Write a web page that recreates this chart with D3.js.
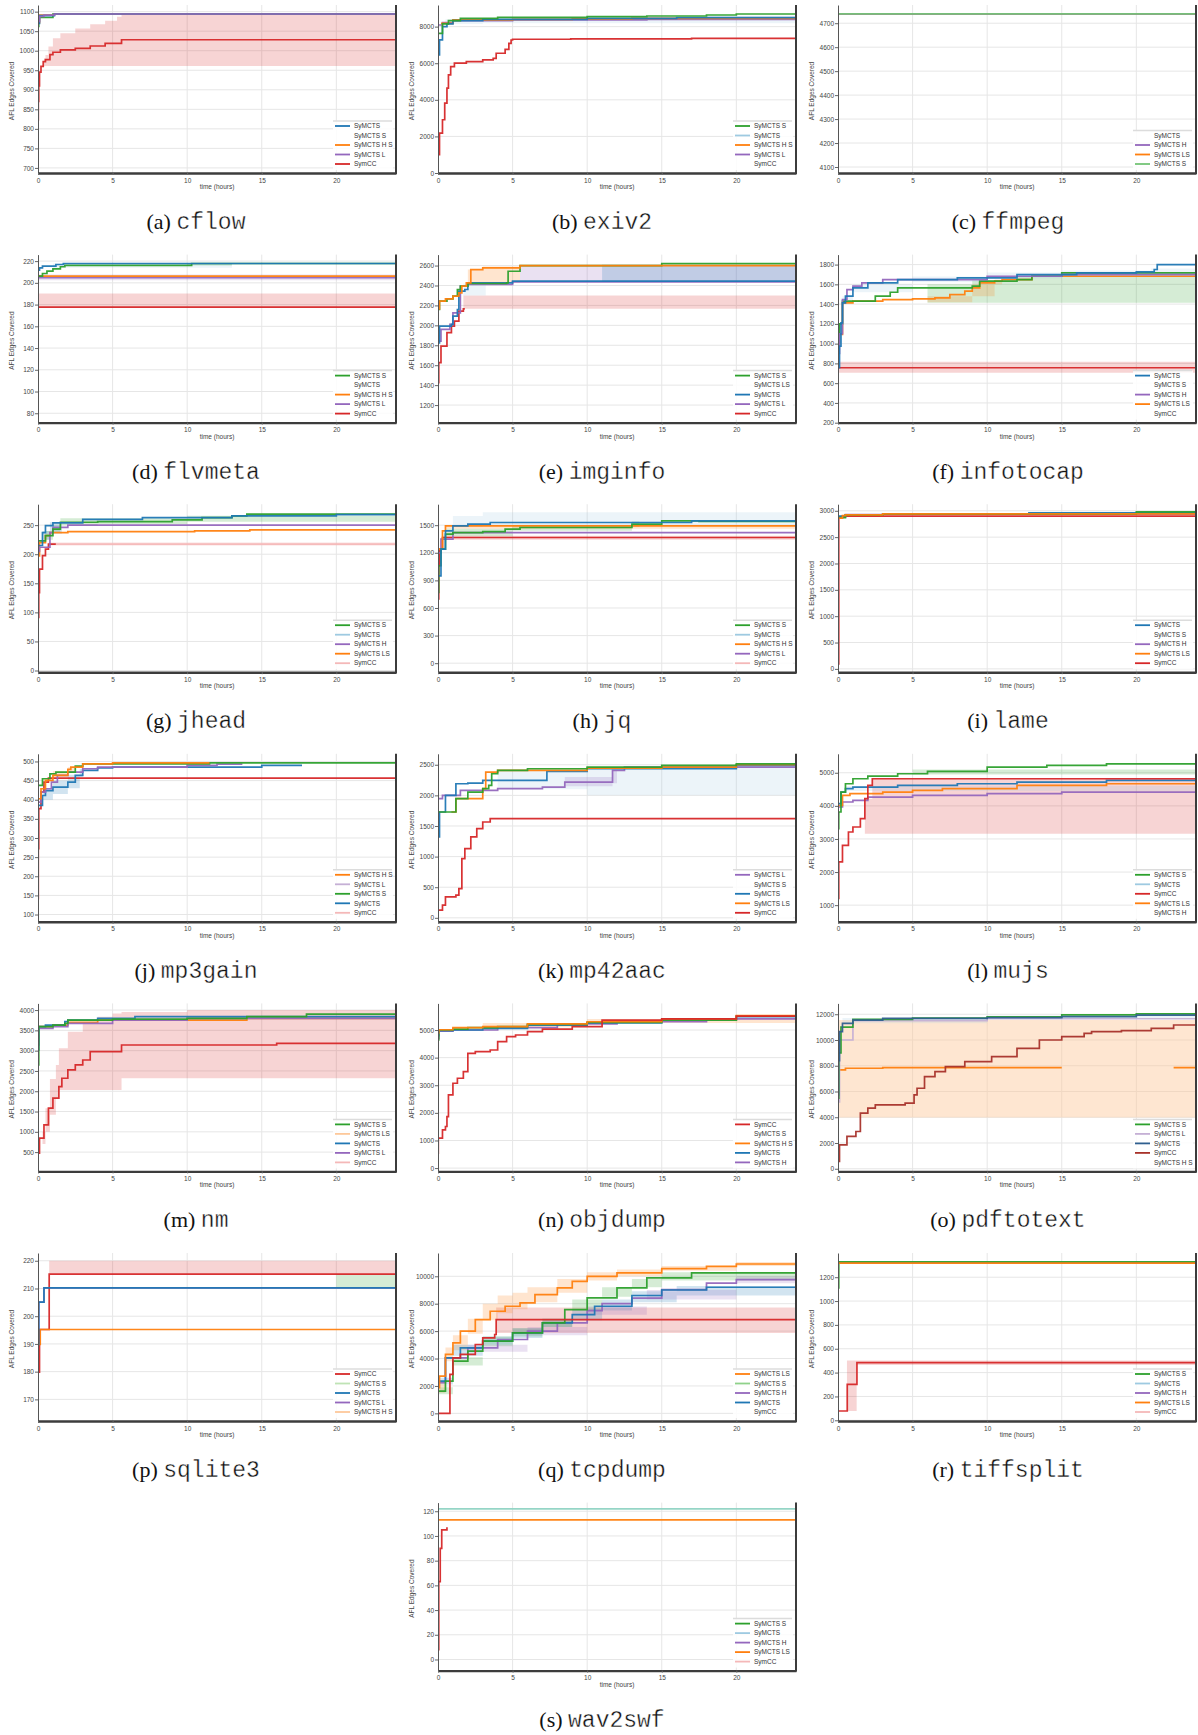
<!DOCTYPE html>
<html>
<head>
<meta charset="utf-8">
<script src="https://cdn.jsdelivr.net/npm/d3@7"></script>
<style>
  body { margin: 0; background: #fff; }
  svg { display: block; font-family: "Liberation Sans", "DejaVu Sans", sans-serif; }
</style>
</head>
<body>
<script>
// Coverage over time (AFL edges) for each benchmark program, one panel per program.

const programs = ["cflow", "exiv2", "ffmpeg", "flvmeta", "imginfo", "infotocap", "jhead", "jq", "lame",
  "mp3gain", "mp42aac", "mujs", "nm", "objdump", "pdftotext", "sqlite3", "tcpdump", "tiffsplit", "wav2swf"];
const letters = ["a", "b", "c", "d", "e", "f", "g", "h", "i", "j", "k", "l", "m", "n", "o", "p", "q", "r", "s"];

const timeTicks = [0, 5, 10, 15, 20];

const yDomains = [
  [687, 1117], [0, 9182], [4075, 4776], [71.4, 226], [1024, 2710], [201, 1901],
  [-2.9, 286], [-98, 1728], [-63, 3125], [81, 520], [-65, 2679], [497, 5573],
  [25, 4164], [-120, 5964], [-207, 12842], [162.2, 222.8], [-558, 11699], [-6, 1403], [-9, 127]
];

const yTicks = [
  [700, 750, 800, 850, 900, 950, 1000, 1050, 1100],
  [0, 2000, 4000, 6000, 8000],
  [4100, 4200, 4300, 4400, 4500, 4600, 4700],
  [80, 100, 120, 140, 160, 180, 200, 220],
  [1200, 1400, 1600, 1800, 2000, 2200, 2400, 2600],
  [200, 400, 600, 800, 1000, 1200, 1400, 1600, 1800],
  [0, 50, 100, 150, 200, 250],
  [0, 300, 600, 900, 1200, 1500],
  [0, 500, 1000, 1500, 2000, 2500, 3000],
  [100, 150, 200, 250, 300, 350, 400, 450, 500],
  [0, 500, 1000, 1500, 2000, 2500],
  [1000, 2000, 3000, 4000, 5000],
  [500, 1000, 1500, 2000, 2500, 3000, 3500, 4000],
  [0, 1000, 2000, 3000, 4000, 5000],
  [0, 2000, 4000, 6000, 8000, 10000, 12000],
  [170, 180, 190, 200, 210, 220],
  [0, 2000, 4000, 6000, 8000, 10000],
  [0, 200, 400, 600, 800, 1000, 1200],
  [0, 20, 40, 60, 80, 100, 120]
];

const palette = {
  blue: "#1f77b4", orange: "#ff7f0e", green: "#2ca02c", red: "#d62728", purple: "#9467bd",
  lightblue: "#9ecae1", lavender: "#c5b0d5", palered: "#f4b8b8", paleorange: "#fdc89a",
  palegreen: "#bfe3b5", lightgreen: "#8fd18a", midgreen: "#74c476", darkred: "#a8322a", darkblue: "#2f5f8f",
  teal: "#8fd3c3"
};

// legend entries per panel: [label, colour key or null when no swatch is shown]
const legends = [
  [["SyMCTS", "blue"], ["SyMCTS S", null], ["SyMCTS H S", "orange"], ["SyMCTS L", "purple"], ["SymCC", "red"]],
  [["SyMCTS S", "green"], ["SyMCTS", "lightblue"], ["SyMCTS H S", "orange"], ["SyMCTS L", "purple"], ["SymCC", null]],
  [["SyMCTS", null], ["SyMCTS H", "purple"], ["SyMCTS LS", "orange"], ["SyMCTS S", "midgreen"]],
  [["SyMCTS S", "green"], ["SyMCTS", null], ["SyMCTS H S", "orange"], ["SyMCTS L", "purple"], ["SymCC", "red"]],
  [["SyMCTS S", "green"], ["SyMCTS LS", null], ["SyMCTS", "blue"], ["SyMCTS L", "purple"], ["SymCC", "red"]],
  [["SyMCTS", "blue"], ["SyMCTS S", null], ["SyMCTS H", "purple"], ["SyMCTS LS", "orange"], ["SymCC", null]],
  [["SyMCTS S", "green"], ["SyMCTS", "lightblue"], ["SyMCTS H", "purple"], ["SyMCTS LS", "orange"], ["SymCC", "palered"]],
  [["SyMCTS S", "green"], ["SyMCTS", "lightblue"], ["SyMCTS H S", "orange"], ["SyMCTS L", "purple"], ["SymCC", "palered"]],
  [["SyMCTS", "blue"], ["SyMCTS S", null], ["SyMCTS H", "purple"], ["SyMCTS LS", "orange"], ["SymCC", "red"]],
  [["SyMCTS H S", "orange"], ["SyMCTS L", "lavender"], ["SyMCTS S", "green"], ["SyMCTS", "blue"], ["SymCC", "palered"]],
  [["SyMCTS L", "purple"], ["SyMCTS S", null], ["SyMCTS", "blue"], ["SyMCTS LS", "orange"], ["SymCC", "red"]],
  [["SyMCTS S", "green"], ["SyMCTS", "lightblue"], ["SymCC", "red"], ["SyMCTS LS", "orange"], ["SyMCTS H", null]],
  [["SyMCTS S", "green"], ["SyMCTS LS", "paleorange"], ["SyMCTS", "blue"], ["SyMCTS L", "purple"], ["SymCC", "palered"]],
  [["SymCC", "red"], ["SyMCTS S", null], ["SyMCTS H S", "orange"], ["SyMCTS", "blue"], ["SyMCTS H", "purple"]],
  [["SyMCTS S", "green"], ["SyMCTS L", "lavender"], ["SyMCTS", "darkblue"], ["SymCC", "darkred"], ["SyMCTS H S", null]],
  [["SymCC", "red"], ["SyMCTS S", "palegreen"], ["SyMCTS", "blue"], ["SyMCTS L", "purple"], ["SyMCTS H S", "paleorange"]],
  [["SyMCTS LS", "orange"], ["SyMCTS S", "lightgreen"], ["SyMCTS H", "purple"], ["SyMCTS", "blue"], ["SymCC", null]],
  [["SyMCTS S", "green"], ["SyMCTS", "lightblue"], ["SyMCTS H", "purple"], ["SyMCTS LS", "orange"], ["SymCC", "palered"]],
  [["SyMCTS S", "green"], ["SyMCTS", "lightblue"], ["SyMCTS H", "purple"], ["SyMCTS LS", "orange"], ["SymCC", "palered"]]
];

// Runs: pts = [hours, edges] (step after), band = [hours, low, high]
const cflowRuns = [
  { c: "red", band: [[0.3, 961, 962], [0.4, 961, 980], [0.5, 961, 989], [0.7, 961, 1011], [1, 961, 1032], [1.5, 961, 1045], [2.5, 961, 1057], [3.5, 961, 1068], [4.5, 961, 1077], [5.3, 961, 1087], [5.6, 961, 1094], [24, 961, 1094]] },
  { c: "red", pts: [[0, 823], [0.02, 870], [0.05, 910], [0.1, 945], [0.2, 960], [0.35, 972], [0.5, 977], [0.8, 990], [1.0, 996], [1.5, 1002], [2.5, 1006], [3.5, 1012], [4.5, 1019], [5.6, 1028], [24, 1028]] },
  { c: "green", pts: [[0, 1062], [0.05, 1085], [1.0, 1094], [24, 1094]] },
  { c: "orange", pts: [[0, 1072], [0.1, 1091], [1.1, 1094], [24, 1094]] },
  { c: "blue", pts: [[0, 1070], [0.1, 1090], [1.1, 1094], [24, 1094]] },
  { c: "purple", pts: [[0, 1075], [0.1, 1088], [0.4, 1091], [1.1, 1094], [24, 1094]] }
];

const exiv2Runs = [
  { c: "lightblue", band: [[0.5, 8145, 8400], [3, 8182, 8450], [10, 8182, 8530], [18, 8182, 8600], [24, 8145, 8727]] },
  { c: "red", pts: [[0, 1000], [0.1, 2180], [0.3, 2910], [0.45, 3818], [0.6, 4636], [0.7, 5363], [0.85, 5818], [1.1, 6000], [1.9, 6090], [3, 6180], [3.7, 6270], [3.9, 6545], [4.5, 6760], [4.75, 7090], [4.9, 7270], [5, 7310], [8.9, 7330], [17, 7360], [24, 7360]] },
  { c: "purple", pts: [[0, 8090], [0.3, 8218], [1, 8327], [5, 8364], [14, 8400], [24, 8420]] },
  { c: "orange", pts: [[0.2, 8182], [1, 8364], [5, 8400], [9, 8420], [13, 8455], [24, 8455]] },
  { c: "blue", pts: [[0, 6455], [0.1, 7273], [0.3, 8000], [0.6, 8145], [1, 8327], [3, 8400], [10, 8455], [16, 8490], [24, 8470]] },
  { c: "green", pts: [[0, 7636], [0.3, 8145], [0.7, 8327], [1.5, 8455], [4, 8509], [10, 8545], [14, 8582], [18, 8636], [20, 8690], [24, 8690]] }
];

const ffmpegRuns = [
  { c: "orange", pts: [[0, 4739], [24, 4739]] },
  { c: "purple", pts: [[0, 4739], [24, 4739]] },
  { c: "midgreen", pts: [[0, 4739], [24, 4739]] }
];

const flvmetaRuns = [
  { c: "red", band: [[0, 177.7, 190.3], [24, 177.7, 190.3]] },
  { c: "purple", band: [[0, 202.5, 207.7], [24, 202.5, 207.7]] },
  { c: "lightblue", band: [[1, 213.8, 217.8], [13, 213.8, 217.8]] },
  { c: "green", band: [[10, 216, 218], [13, 216, 218]] },
  { c: "red", pts: [[0, 177.7], [24, 177.7]] },
  { c: "purple", pts: [[0, 204.7], [24, 204.7]] },
  { c: "orange", pts: [[0, 206.2], [24, 206.2]] },
  { c: "green", pts: [[0, 206.2], [0.3, 208.6], [0.6, 210.8], [1, 212.9], [1.5, 214.8], [1.8, 216], [10.3, 217.8], [24, 217.8]] },
  { c: "blue", pts: [[0, 211.7], [0.1, 213.8], [0.3, 215.4], [1.2, 216.9], [1.7, 217.8], [24, 217.8]] }
];

const imginfoRuns = [
  { c: "red", band: [[1.7, 2166, 2300], [24, 2166, 2300]] },
  { c: "lightblue", band: [[1.7, 2300, 2420], [3.2, 2300, 2420]] },
  { c: "orange", band: [[2, 2426, 2560], [3, 2430, 2590], [5.5, 2436, 2600]] },
  { c: "purple", band: [[5.5, 2436, 2600], [24, 2436, 2610]] },
  { c: "blue", band: [[11, 2436, 2610], [24, 2436, 2610]] },
  { c: "red", pts: [[0, 1425], [0.05, 1625], [0.2, 1792], [0.6, 1926], [0.9, 1992], [1.1, 2042], [1.4, 2143], [1.7, 2166], [1.8, 2166]] },
  { c: "purple", pts: [[0, 1842], [0.2, 1959], [0.8, 2009], [1.0, 2126], [1.5, 2393], [2, 2410], [5, 2436], [24, 2436]] },
  { c: "blue", pts: [[0, 1825], [0.1, 1992], [0.9, 2009], [1, 2092], [1.3, 2159], [1.4, 2343], [1.8, 2360], [2, 2426], [5, 2443], [24, 2443]] },
  { c: "green", pts: [[0, 2159], [0.1, 2243], [0.6, 2266], [1, 2293], [1.3, 2360], [1.5, 2393], [2, 2420], [4.6, 2426], [4.7, 2543], [5.5, 2600], [15, 2620], [24, 2620]] },
  { c: "orange", pts: [[0, 2166], [0.1, 2243], [0.5, 2266], [1, 2293], [1.4, 2326], [1.6, 2393], [1.9, 2426], [2.2, 2560], [3, 2577], [5.5, 2600], [24, 2610]] }
];

const infotocapRuns = [
  { c: "red", band: [[0, 706, 817], [24, 706, 817]] },
  { c: "green", band: [[6, 1413, 1600], [9, 1413, 1640], [12, 1413, 1680], [15, 1413, 1720], [24, 1413, 1730]] },
  { c: "lightblue", band: [[0.3, 1400, 1480], [1, 1520, 1600], [5, 1620, 1680], [10, 1660, 1720], [15, 1690, 1740], [21, 1700, 1760], [24, 1700, 1800]] },
  { c: "orange", band: [[6, 1420, 1480], [9, 1480, 1600], [10.5, 1600, 1650], [11, 1600, 1650]] },
  { c: "red", pts: [[0, 756], [24, 756]] },
  { c: "orange", pts: [[0, 1093], [0.3, 1413], [1, 1430], [3, 1446], [5, 1453], [6.5, 1463], [7.5, 1497], [8.5, 1531], [9, 1564], [9.5, 1615], [10.5, 1632], [11, 1648], [13, 1682], [24, 1692]] },
  { c: "green", pts: [[0, 1000], [0.1, 1200], [0.3, 1430], [2, 1430], [2.5, 1480], [3.5, 1520], [4, 1564], [9, 1581], [9.5, 1632], [12, 1648], [13, 1682], [15, 1716], [24, 1716]] },
  { c: "purple", pts: [[0, 900], [0.1, 1100], [0.3, 1446], [0.6, 1547], [1, 1581], [1.6, 1615], [3, 1648], [10, 1682], [15, 1699], [24, 1716]] },
  { c: "blue", pts: [[0, 756], [0.1, 975], [0.2, 1211], [0.3, 1413], [0.5, 1480], [1, 1564], [2, 1615], [4, 1648], [8, 1665], [12, 1699], [16, 1716], [20, 1726], [21.2, 1750], [21.4, 1800], [24, 1800]] }
];

const jheadRuns = [
  { c: "palered", band: [[0.7, 215, 220], [24, 215, 220]] },
  { c: "green", band: [[0.5, 225, 240], [1, 238, 250], [1.5, 250, 262], [4, 252, 262], [10, 256, 266], [24, 264, 272]] },
  { c: "blue", band: [[0.3, 225, 240], [0.8, 235, 255], [1.6, 242, 255]] },
  { c: "red", pts: [[0, 91.5], [0.05, 134], [0.1, 174.5], [0.3, 197.4], [0.5, 208.8], [0.7, 217.4], [1.2, 217.4]] },
  { c: "palered", pts: [[1.2, 217.4], [24, 217.4]] },
  { c: "orange", pts: [[0, 197], [0.1, 220], [0.5, 232], [0.8, 237], [2, 239], [10.5, 240], [14.2, 242], [24, 242]] },
  { c: "purple", pts: [[0, 205], [0.1, 212], [0.8, 237], [1, 246], [2, 250], [24, 250]] },
  { c: "green", pts: [[0, 223], [0.5, 232], [1, 243], [1.5, 255], [4, 256], [9, 259], [11, 263], [13, 266], [14, 269], [24, 269]] },
  { c: "blue", pts: [[0, 215], [0.3, 237], [0.5, 249], [1, 254], [3, 260], [7, 263], [13, 266], [20, 268], [24, 268]] }
];

const jqRuns = [
  { c: "lightblue", band: [[1, 1480, 1600], [3, 1500, 1640], [24, 1500, 1640]] },
  { c: "green", band: [[0.5, 1380, 1460], [5, 1440, 1500], [13, 1480, 1540], [13.5, 1480, 1540]] },
  { c: "red", band: [[0.3, 1341, 1384], [24, 1341, 1384]] },
  { c: "orange", band: [[0.5, 1460, 1500], [24, 1470, 1510]] },
  { c: "red", pts: [[0, 698], [0.05, 1059], [0.1, 1240], [0.3, 1366], [24, 1366]] },
  { c: "purple", pts: [[0, 1200], [0.2, 1348], [1, 1420], [24, 1420]] },
  { c: "orange", pts: [[0, 1240], [0.3, 1439], [0.5, 1493], [24, 1493]] },
  { c: "green", pts: [[0, 770], [0.05, 1059], [0.2, 1240], [0.5, 1402], [1, 1420], [3, 1431], [4.5, 1457], [5.5, 1475], [13, 1511], [15, 1547], [17.5, 1540], [24, 1540]] },
  { c: "blue", pts: [[0, 950], [0.2, 1240], [0.5, 1439], [1, 1493], [2, 1511], [3.5, 1529], [17, 1547], [24, 1540]] }
];

const lameRuns = [
  { c: "red", pts: [[0, 95], [0.05, 2870], [0.3, 2900], [24, 2900]] },
  { c: "purple", pts: [[0, 2880], [0.5, 2930], [3, 2935], [24, 2940]] },
  { c: "blue", pts: [[0, 2870], [0.1, 2900], [0.5, 2922], [3, 2940], [12.8, 2961], [24, 2961]] },
  { c: "green", pts: [[0, 2870], [0.5, 2922], [3, 2935], [20, 2980], [24, 2980]] },
  { c: "orange", pts: [[0, 2860], [0.3, 2910], [0.5, 2922], [3, 2940], [24, 2940]] }
];

const mp3gainRuns = [
  { c: "blue", band: [[0.3, 400, 430], [1, 415, 450], [2, 430, 465], [2.8, 460, 480], [3, 460, 480]] },
  { c: "orange", band: [[1, 460, 475], [2, 475, 485], [2.5, 475, 485]] },
  { c: "red", pts: [[0, 141.7], [0.02, 272], [0.05, 376.5], [0.2, 420], [0.4, 446], [0.7, 456.5], [24, 456.5]] },
  { c: "blue", pts: [[0.05, 385], [0.3, 411], [0.5, 424], [1, 433], [2, 446], [2.5, 463.5], [3, 476.5], [4, 483], [5, 485.2], [15, 489.6], [17.7, 489.6]] },
  { c: "purple", pts: [[0, 393.9], [0.2, 420], [0.5, 428.7], [0.9, 446.1], [1.3, 463.5], [2, 472.2], [3, 480.9], [4, 485.2], [10, 489.6], [12, 493], [13.7, 493]] },
  { c: "green", pts: [[0, 437.4], [0.3, 454.8], [0.8, 467.8], [1.2, 472.2], [2.5, 487.8], [3, 493.9], [11.5, 496.5], [24, 496.5]] },
  { c: "orange", pts: [[0, 402.6], [0.2, 428.7], [0.5, 450.4], [1, 463.5], [2, 479.1], [2.2, 485.2], [3, 493.9], [5, 496.5], [11.5, 496.5]] }
];

const mp42aacRuns = [
  { c: "lightblue", band: [[4, 2100, 2420], [10, 2000, 2460], [24, 2000, 2530]] },
  { c: "purple", band: [[8.5, 2150, 2300], [11.7, 2200, 2400], [12, 2200, 2400]] },
  { c: "red", pts: [[0, 125], [0.3, 207], [0.5, 342], [1.2, 370], [1.4, 478], [1.6, 967], [1.8, 1130], [2.2, 1321], [2.6, 1457], [3, 1565], [3.5, 1620], [24, 1620]] },
  { c: "purple", pts: [[0, 1946], [0.3, 2000], [1.5, 2082], [4, 2109], [7, 2136], [8.5, 2217], [11.7, 2408], [12.5, 2462], [24, 2500]] },
  { c: "blue", pts: [[0, 1321], [0.1, 1728], [0.5, 2000], [1.2, 2190], [2, 2201], [3, 2245], [7.3, 2391], [10, 2435], [20, 2489], [24, 2516]] },
  { c: "orange", pts: [[0.9, 1728], [1.2, 1946], [3, 2109], [3.2, 2380], [4, 2408], [10, 2446], [15, 2462], [20, 2500], [24, 2516]] },
  { c: "green", pts: [[0, 1728], [0.9, 1728], [1.2, 1946], [2, 2054], [3, 2109], [3.4, 2163], [3.6, 2353], [4, 2408], [6, 2435], [10, 2462], [15, 2489], [20, 2516], [24, 2533]] }
];

const mujsRuns = [
  { c: "red", band: [[1.8, 3161, 4216], [2.3, 3161, 4819], [24, 3161, 4819]] },
  { c: "lightblue", band: [[0.5, 4450, 4600], [24, 4700, 4850]] },
  { c: "green", band: [[5, 4950, 5100], [24, 5200, 5320]] },
  { c: "purple", pts: [[0, 3965], [0.3, 4116], [1, 4166], [2, 4266], [5, 4317], [10, 4367], [15, 4417], [24, 4467]] },
  { c: "orange", pts: [[0, 4015], [0.3, 4317], [0.8, 4367], [3, 4417], [5, 4467], [7, 4518], [12, 4618], [18, 4668], [24, 4698]] },
  { c: "blue", pts: [[0, 4065], [0.2, 4417], [0.5, 4518], [1, 4568], [4, 4618], [8, 4668], [12, 4719], [18, 4769], [24, 4799]] },
  { c: "red", pts: [[0, 1201], [0.05, 2307], [0.3, 2809], [0.7, 3211], [1, 3362], [1.5, 3613], [1.8, 4216], [2, 4618], [2.3, 4819], [24, 4819]] },
  { c: "green", pts: [[0, 3312], [0.05, 3814], [0.2, 4417], [0.5, 4668], [1, 4819], [2, 4899], [4, 4970], [6, 5040], [10, 5171], [14, 5221], [18, 5271], [24, 5281]] }
];

const nmRuns = [
  { c: "red", band: [[0.3, 700, 1000], [0.5, 1000, 1582], [0.8, 1418, 2300], [1.2, 1828, 2648], [1.4, 2033, 3057], [2, 2033, 3467], [3, 2033, 3672], [4, 2033, 3836], [5, 2033, 3918], [5.6, 2320, 3950], [10, 2320, 4000], [24, 2320, 4000]] },
  { c: "red", pts: [[0, 475], [0.1, 844], [0.4, 1172], [0.7, 1582], [1, 1828], [1.4, 2115], [1.6, 2320], [2, 2525], [2.5, 2648], [3, 2770], [3.5, 2975], [5.6, 3139], [16, 3180], [24, 3180]] },
  { c: "orange", pts: [[0.05, 3590], [1, 3631], [2, 3697], [4, 3754], [14, 3795], [24, 3877]] },
  { c: "purple", pts: [[0, 3139], [0.05, 3549], [1, 3590], [2, 3672], [5, 3754], [10, 3795], [24, 3852]] },
  { c: "blue", pts: [[0, 3016], [0.05, 3590], [0.5, 3631], [1.8, 3713], [2, 3754], [4, 3795], [6.5, 3836], [24, 3861]] },
  { c: "green", pts: [[0, 2648], [0.05, 3590], [1, 3631], [1.8, 3672], [2, 3754], [5, 3779], [10, 3795], [14, 3836], [18, 3902], [24, 3902]] }
];

const objdumpRuns = [
  { c: "orange", band: [[3, 5100, 5250], [10, 5250, 5400], [24, 5500, 5700]] },
  { c: "purple", pts: [[0, 4700], [0.05, 4960], [1, 5000], [4, 5084], [8, 5220], [12, 5300], [18, 5400], [24, 5520]] },
  { c: "blue", pts: [[0, 4800], [0.05, 4980], [1, 5000], [3, 5060], [6, 5180], [10, 5260], [15, 5380], [20, 5480], [24, 5560]] },
  { c: "green", pts: [[0, 4639], [0.05, 5000], [1, 5036], [2, 5084], [4, 5120], [6, 5205], [10, 5277], [15, 5361], [20, 5500], [24, 5602]] },
  { c: "orange", pts: [[0, 4900], [0.05, 5010], [1, 5084], [3, 5120], [6, 5220], [10, 5300], [15, 5400], [20, 5520], [24, 5580]] },
  { c: "red", pts: [[0, 542], [0.02, 1084], [0.3, 1386], [0.5, 1506], [0.6, 1867], [0.7, 2651], [1, 3072], [1.3, 3253], [1.7, 3494], [2, 4157], [2.5, 4217], [3.5, 4277], [4, 4578], [4.6, 4759], [5.2, 4819], [6, 4940], [7, 5036], [9, 5120], [11, 5361], [15, 5400], [20, 5500], [24, 5600]] }
];

const pdftotextRuns = [
  { c: "paleorange", band: [[0, 3979, 11550], [24, 3979, 11550]] },
  { c: "lightblue", band: [[0.3, 11300, 11700], [10, 11650, 11900], [24, 11700, 12000]] },
  { c: "orange", pts: [[0, 5478], [0.05, 7674], [0.5, 7804], [3, 7855], [15, 7855]] },
  { c: "orange", pts: [[22.5, 7855], [24, 7855]] },
  { c: "darkred", pts: [[0, 568], [0.1, 1860], [0.6, 2506], [1.2, 2894], [1.5, 4315], [2, 4703], [2.5, 4961], [4.5, 5090], [5.1, 5736], [5.3, 6253], [5.8, 7158], [6.5, 7545], [7.2, 7933], [8.5, 8320], [10.3, 8708], [12, 9354], [13.5, 10000], [15, 10258], [16.5, 10517], [17, 10646], [19, 10723], [21, 10904], [22.5, 11163], [24, 11421]] },
  { c: "lavender", pts: [[0, 5200], [0.1, 10000], [1, 11500], [10, 11650], [24, 11900]] },
  { c: "green", pts: [[0, 5478], [0.05, 9000], [0.2, 11000], [1, 11600], [5, 11700], [10, 11800], [15, 11950], [20, 12030], [24, 12067]] },
  { c: "darkblue", pts: [[0, 5736], [0.03, 8400], [0.1, 10646], [0.3, 11292], [1, 11550], [3, 11680], [10, 11731], [15, 11809], [20, 11938], [24, 11990]] }
];

const sqlite3Runs = [
  { c: "red", band: [[0.75, 215.2, 220], [24, 215.2, 220]] },
  { c: "green", band: [[20, 210.2, 215.2], [24, 210.2, 215.2]] },
  { c: "purple", pts: [[0, 189.8], [0.05, 205.1], [0.4, 210.2], [24, 210.2]] },
  { c: "red", pts: [[0, 179.8], [0.1, 195.2], [0.75, 215.2], [24, 215.2]] },
  { c: "orange", pts: [[0, 189.8], [0.15, 195.2], [24, 195.2]] },
  { c: "blue", pts: [[0, 189.8], [0.05, 205.1], [0.4, 210.2], [24, 210.2]] }
];

const tcpdumpRuns = [
  { c: "red", band: [[3.9, 5870, 7720], [24, 5870, 7720]] },
  { c: "orange", band: [[0, 1500, 2300], [0.5, 3800, 4800], [1, 4600, 5700], [2, 5800, 6900], [3, 6800, 8000], [4, 7300, 8600], [5, 7600, 8800], [6, 8100, 9200], [8, 8800, 9800], [10, 9700, 10300], [12, 10000, 10500], [15, 10400, 10750], [20, 10750, 11050], [24, 10900, 11150]] },
  { c: "green", band: [[0, 1400, 1900], [1, 3500, 4100], [3, 4900, 5600], [5, 5600, 6200], [7, 6300, 6900], [9, 7500, 8300], [11, 8500, 9200], [13, 9200, 9800], [15, 9700, 10300], [24, 10150, 10550]] },
  { c: "blue", band: [[0, 2100, 2600], [1, 4200, 5000], [3, 5000, 5600], [5, 5500, 6200], [7, 6300, 6900], [9, 6800, 7600], [11, 7500, 8300], [13, 8100, 8900], [16, 8600, 9300], [24, 9100, 9600]] },
  { c: "purple", band: [[2, 4500, 5000], [6, 5700, 6300], [10, 7200, 7800], [14, 8300, 9000], [20, 9500, 10000], [24, 9650, 10100]] },
  { c: "purple", pts: [[0, 2233], [0.5, 4053], [2, 4781], [4, 5388], [6, 5995], [8, 6601], [10, 7500], [11, 8000], [13, 8400], [15, 9028], [18, 9500], [20, 9756], [24, 9878]] },
  { c: "blue", pts: [[0, 2354], [0.5, 4053], [1.5, 4781], [3, 5267], [5, 5873], [7, 6601], [9, 7208], [10.5, 7815], [13, 8600], [15, 9000], [18, 9200], [24, 9344]] },
  { c: "green", pts: [[0, 1626], [0.5, 2354], [1, 3810], [2, 4538], [3, 5267], [5, 5873], [7, 6601], [8.5, 7572], [10, 8422], [12, 9150], [14, 9878], [17, 10242], [24, 10363]] },
  { c: "red", pts: [[0, 0], [0.5, 0], [0.8, 2840], [1.0, 4053], [1.5, 4296], [2.5, 5024], [3, 5510], [3.8, 5752], [3.9, 6845], [24, 6845]] },
  { c: "orange", pts: [[0, 1869], [0.1, 2718], [0.5, 4296], [1, 5145], [1.5, 5995], [2.5, 6845], [3.5, 7451], [4.5, 7815], [5.5, 8058], [6.5, 8665], [8, 9150], [9, 9635], [10, 10000], [12, 10242], [15, 10557], [18, 10727], [20, 10897], [24, 11043]] }
];

const tiffsplitRuns = [
  { c: "red", band: [[0.6, 78, 502], [1.25, 463, 502], [24, 463, 502]] },
  { c: "red", pts: [[0, 78], [0.62, 301], [1.27, 483], [24, 483]] },
  { c: "purple", pts: [[0, 1320], [24, 1320]] },
  { c: "green", pts: [[0, 1110], [0.05, 1328], [24, 1328]] },
  { c: "orange", pts: [[0, 1318], [24, 1318]] }
];

const wav2swfRuns = [
  { c: "red", pts: [[0, 8], [0.05, 63], [0.15, 90], [0.25, 105], [0.6, 107]] },
  { c: "orange", pts: [[0, 113], [24, 113]] },
  { c: "teal", pts: [[0, 122], [24, 122]] }
];

const runsByPanel = [cflowRuns, exiv2Runs, ffmpegRuns, flvmetaRuns, imginfoRuns, infotocapRuns, jheadRuns,
  jqRuns, lameRuns, mp3gainRuns, mp42aacRuns, mujsRuns, nmRuns, objdumpRuns, pdftotextRuns, sqlite3Runs,
  tcpdumpRuns, tiffsplitRuns, wav2swfRuns];

// ---------------------------------------------------------------- layout
const W = 1198, H = 1735;
const colX = [0, 400, 800];
const captionX = [196, 602, 1008];
const rowH = 249.6;

const svg = d3.select("body").append("svg").attr("width", W).attr("height", H);
const defs = svg.append("defs");

programs.forEach((prog, i) => {
  const col = i === 18 ? 1 : i % 3;
  const row = Math.floor(i / 3);
  const ox = colX[col], oy = row * rowH;
  const left = ox + 38, right = ox + 396, top = oy + 5, bottom = oy + 173;

  const x = d3.scaleLinear().domain([0, 24]).range([left, right]);
  const y = d3.scaleLinear().domain(yDomains[i]).range([bottom, top]);

  const g = svg.append("g").attr("class", "panel-" + letters[i]);

  // grid
  g.append("g").selectAll("line.gy").data(yTicks[i]).join("line")
    .attr("x1", left).attr("x2", right).attr("y1", d => y(d)).attr("y2", d => y(d))
    .attr("stroke", "#e6e6e6").attr("stroke-width", 1);
  g.append("g").selectAll("line.gx").data(timeTicks.slice(1)).join("line")
    .attr("x1", d => x(d)).attr("x2", d => x(d)).attr("y1", top).attr("y2", bottom)
    .attr("stroke", "#e6e6e6").attr("stroke-width", 1);

  // clip for data
  const clipId = "clip-" + letters[i];
  defs.append("clipPath").attr("id", clipId).append("rect")
    .attr("x", left).attr("y", top).attr("width", right - left).attr("height", bottom - top);
  const data = g.append("g").attr("clip-path", `url(#${clipId})`);

  const area = d3.area().curve(d3.curveStepAfter).x(d => x(d[0])).y0(d => y(d[1])).y1(d => y(d[2]));
  const line = d3.line().curve(d3.curveStepAfter).x(d => x(d[0])).y(d => y(d[1]));

  runsByPanel[i].forEach(r => {
    if (r.band) {
      data.append("path").attr("d", area(r.band))
        .attr("fill", palette[r.c]).attr("fill-opacity", r.c.startsWith("pale") ? 0.45 : 0.2);
    }
    if (r.pts) {
      data.append("path").attr("d", line(r.pts)).attr("fill", "none")
        .attr("stroke", palette[r.c]).attr("stroke-width", 1.7).attr("stroke-opacity", 0.95);
    }
  });

  // y axis
  const gy = g.append("g").attr("transform", `translate(${left},0)`)
    .call(d3.axisLeft(y).tickValues(yTicks[i]).tickSize(3).tickSizeOuter(0).tickPadding(1).tickFormat(d3.format("d")));
  gy.select(".domain").attr("stroke", "#555").attr("stroke-width", 1);
  gy.selectAll(".tick line").attr("stroke", "#666");
  gy.selectAll(".tick text").attr("font-size", 6.5).attr("fill", "#444").attr("font-family", "Liberation Sans, sans-serif");

  // x axis
  const gx = g.append("g").attr("transform", `translate(0,${bottom})`)
    .call(d3.axisBottom(x).tickValues(timeTicks).tickSize(2).tickSizeOuter(0).tickPadding(3).tickFormat(d3.format("d")));
  gx.select(".domain").attr("stroke", "#3c3c3c").attr("stroke-width", 2.4);
  gx.selectAll(".tick line").attr("stroke", "#666");
  gx.selectAll(".tick text").attr("font-size", 6.5).attr("fill", "#444").attr("font-family", "Liberation Sans, sans-serif");

  // right frame edge
  g.append("line").attr("x1", right).attr("x2", right).attr("y1", top).attr("y2", bottom + 1)
    .attr("stroke", "#3c3c3c").attr("stroke-width", 2);

  // axis titles
  g.append("text").attr("transform", `translate(${ox + 14},${(top + bottom) / 2 + 2}) rotate(-90)`)
    .attr("text-anchor", "middle").attr("font-size", 6.5).attr("fill", "#444").text("AFL Edges Covered");
  g.append("text").attr("x", (left + right) / 2).attr("y", bottom + 16)
    .attr("text-anchor", "middle").attr("font-size", 6.5).attr("fill", "#444").text("time (hours)");

  // legend
  const entries = legends[i];
  const n = entries.length;
  const legY = j => bottom - 9 - (n - 1 - j) * 9.5;
  const lg = g.append("g");
  lg.append("rect").attr("x", right - 63).attr("y", legY(0) - 5).attr("width", 60).attr("height", bottom - 3 - (legY(0) - 5))
    .attr("fill", "#fff").attr("fill-opacity", 0.85);
  lg.append("line").attr("x1", right - 63).attr("x2", right - 4).attr("y1", legY(0) - 5).attr("y2", legY(0) - 5)
    .attr("stroke", "#dcdcdc").attr("stroke-width", 1.5);
  entries.forEach(([label, c], j) => {
    if (c) {
      lg.append("line").attr("x1", right - 61).attr("x2", right - 46).attr("y1", legY(j)).attr("y2", legY(j))
        .attr("stroke", palette[c]).attr("stroke-width", 1.8);
    }
    lg.append("text").attr("x", right - 42).attr("y", legY(j)).attr("dy", "0.35em")
      .attr("font-size", 6.5).attr("fill", "#333").text(label);
  });

  // caption: serif sub-label followed by the program name in a typewriter face
  const cap = svg.append("text").attr("x", captionX[col]).attr("y", oy + 229)
    .attr("text-anchor", "middle").attr("font-size", 22).attr("fill", "#111");
  cap.append("tspan").attr("font-family", "Liberation Serif, serif").text(`(${letters[i]}) `);
  cap.append("tspan").attr("font-family", "Liberation Mono, monospace")
    .attr("stroke", "#fff").attr("stroke-width", 0.35).attr("font-size", 23).text(prog);
});
</script>
</body>
</html>
